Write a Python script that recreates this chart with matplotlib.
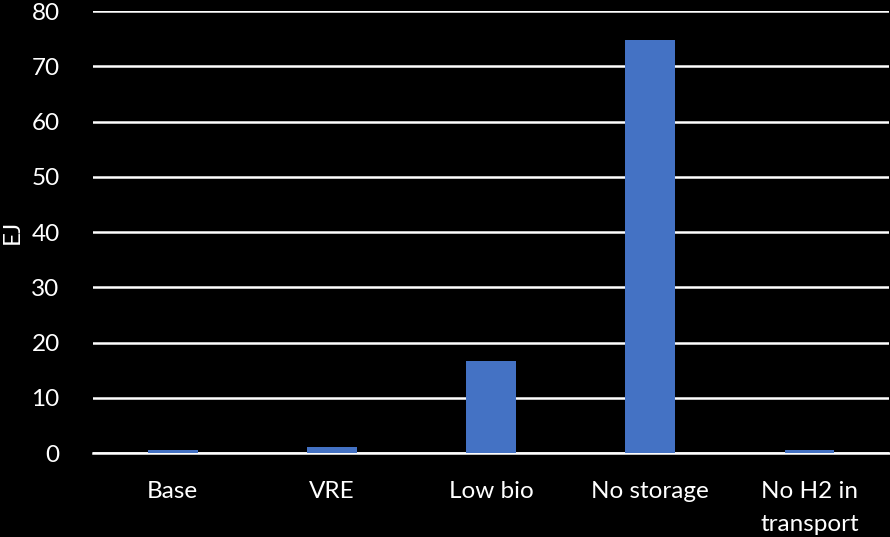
import numpy as np
import matplotlib.pyplot as plt

plt.rcParams['font.family'] = ['Lato', 'DejaVu Sans']

scenarios = ["Base", "VRE", "Low bio", "No storage", "No H2 in\ntransport"]
energy_ej = [0.5, 1.1, 16.6, 74.7, 0.5]
y_ticks = [0, 10, 20, 30, 40, 50, 60, 70, 80]

fig = plt.figure(figsize=(8.9, 5.37), dpi=100, facecolor='black')
ax = fig.add_axes([0.1045, 0.1564, 0.8945, 0.8231], facecolor='black')

x = np.arange(len(scenarios))
ax.bar(x, energy_ej, width=0.314, color='#4472C4', zorder=3)

ax.set_xlim(-0.5, len(scenarios) - 0.5)
ax.set_ylim(0, 80)
ax.set_yticks(y_ticks)
ax.yaxis.grid(True, color='white', linewidth=1.8, zorder=0)
ax.set_axisbelow(True)
ax.set_xticks(x)
ax.set_xticklabels(scenarios, color='white', fontsize=17.5, linespacing=1.7)
ax.tick_params(axis='y', colors='white', labelsize=17.5, length=0, pad=24)
ax.tick_params(axis='x', length=0, pad=20)

for side in ['top', 'right', 'left']:
    ax.spines[side].set_visible(False)
ax.spines['bottom'].set_color('white')
ax.spines['bottom'].set_linewidth(1.8)

ax.set_ylabel("EJ", color='white', fontsize=17.5, labelpad=6)

fig.savefig("out.png", dpi=100, facecolor='black')
